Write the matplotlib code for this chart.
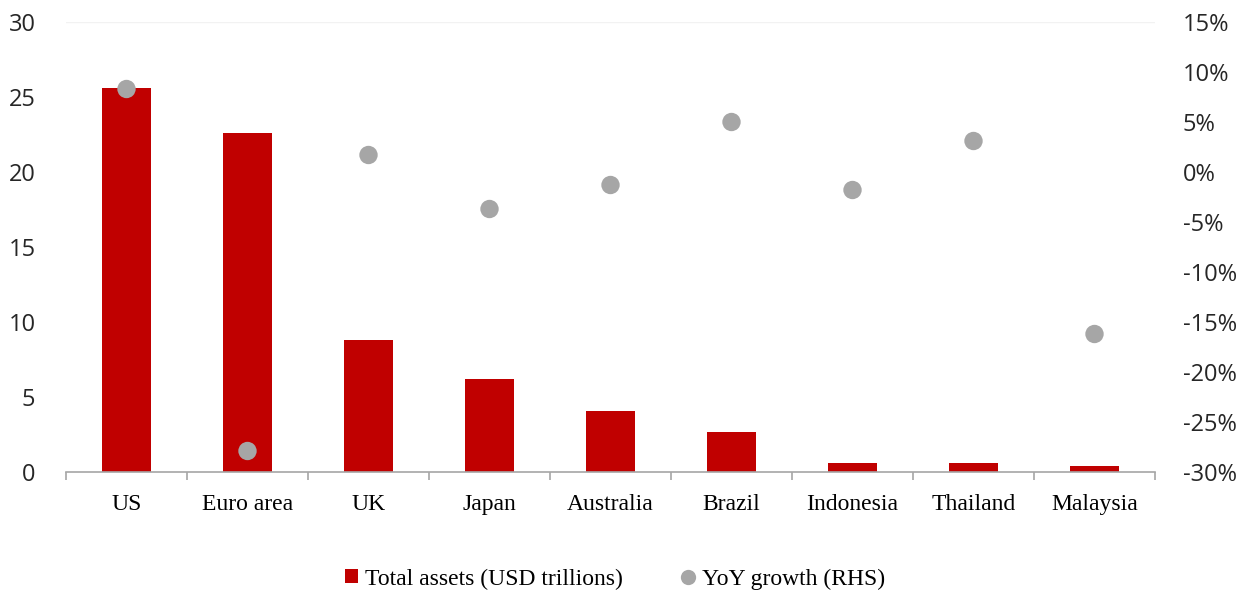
import matplotlib
matplotlib.use("Agg")
import matplotlib.pyplot as plt
from matplotlib.ticker import FixedLocator, FuncFormatter
from matplotlib.lines import Line2D
from matplotlib.patches import Patch

# Banking-sector size and growth by economy
countries = ["US", "Euro area", "UK", "Japan", "Australia", "Brazil",
             "Indonesia", "Thailand", "Malaysia"]
total_assets = [25.6, 22.6, 8.8, 6.2, 4.1, 2.7, 0.6, 0.6, 0.4]   # USD trillions
yoy_growth = [8.3, -27.9, 1.7, -3.7, -1.3, 5.0, -1.8, 3.1, -16.2]  # percent

left_ticks = [0, 5, 10, 15, 20, 25, 30]
right_ticks = [-30, -25, -20, -15, -10, -5, 0, 5, 10, 15]

BAR_RED = "#C00000"
DOT_GREY = "#A6A6A6"
AXIS_GREY = "#A6A6A6"
TEXT = "#262626"
SANS = ["Open Sans", "DejaVu Sans"]
SERIF = ["Liberation Serif", "DejaVu Serif"]

fig = plt.figure(figsize=(12.45, 5.95), dpi=100)
ax = fig.add_axes([66 / 1245, 123 / 595, (1155 - 66) / 1245, 450 / 595])
ax2 = ax.twinx()

x = list(range(len(countries)))
ax.bar(x, total_assets, width=0.40, color=BAR_RED, zorder=2)
ax2.scatter(x, yoy_growth, s=175, color=DOT_GREY, edgecolors="none", zorder=3)

ax.set_xlim(-0.5, len(countries) - 0.5)
ax.set_ylim(0, 30)
ax2.set_ylim(-30, 15)

# faint top rule
ax.axhline(30, color="#F2F2F2", lw=1, zorder=1)

for a in (ax, ax2):
    for s in ("top", "left", "right", "bottom"):
        a.spines[s].set_visible(False)
ax.spines["bottom"].set_visible(True)
ax.spines["bottom"].set_color(AXIS_GREY)
ax.spines["bottom"].set_linewidth(1.2)

ax.set_xticks(x)
ax.set_xticklabels(countries, fontfamily=SERIF, fontsize=17, color="black")
ax.tick_params(axis="x", which="major", length=0, pad=16)
ax.xaxis.set_minor_locator(FixedLocator([i - 0.5 for i in range(len(countries) + 1)]))
ax.tick_params(axis="x", which="minor", length=6, width=1.2, color=AXIS_GREY,
               direction="out")

ax.set_yticks(left_ticks)
ax.tick_params(axis="y", length=0, pad=22, labelsize=17, labelcolor=TEXT)
for lbl in ax.get_yticklabels():
    lbl.set_fontfamily(SANS)

ax2.set_yticks(right_ticks)
ax2.yaxis.set_major_formatter(FuncFormatter(lambda v, _: f"{int(v)}%"))
ax2.tick_params(axis="y", length=0, pad=20, labelsize=17, labelcolor=TEXT)
for lbl in ax2.get_yticklabels():
    lbl.set_fontfamily(SANS)

handles = [
    Patch(facecolor=BAR_RED, edgecolor="none", label="Total assets (USD trillions)"),
    Line2D([], [], marker="o", linestyle="none", markersize=11,
           markerfacecolor=DOT_GREY, markeredgecolor="none",
           label="YoY growth (RHS)"),
]
fig.legend(handles=handles, loc="center", bbox_to_anchor=(615 / 1245, 16 / 595),
           ncol=2, frameon=False, prop={"family": SERIF, "size": 17},
           handlelength=0.55, handleheight=0.55, handletextpad=0.3, columnspacing=2.5)

fig.savefig("out.png", dpi=100)
